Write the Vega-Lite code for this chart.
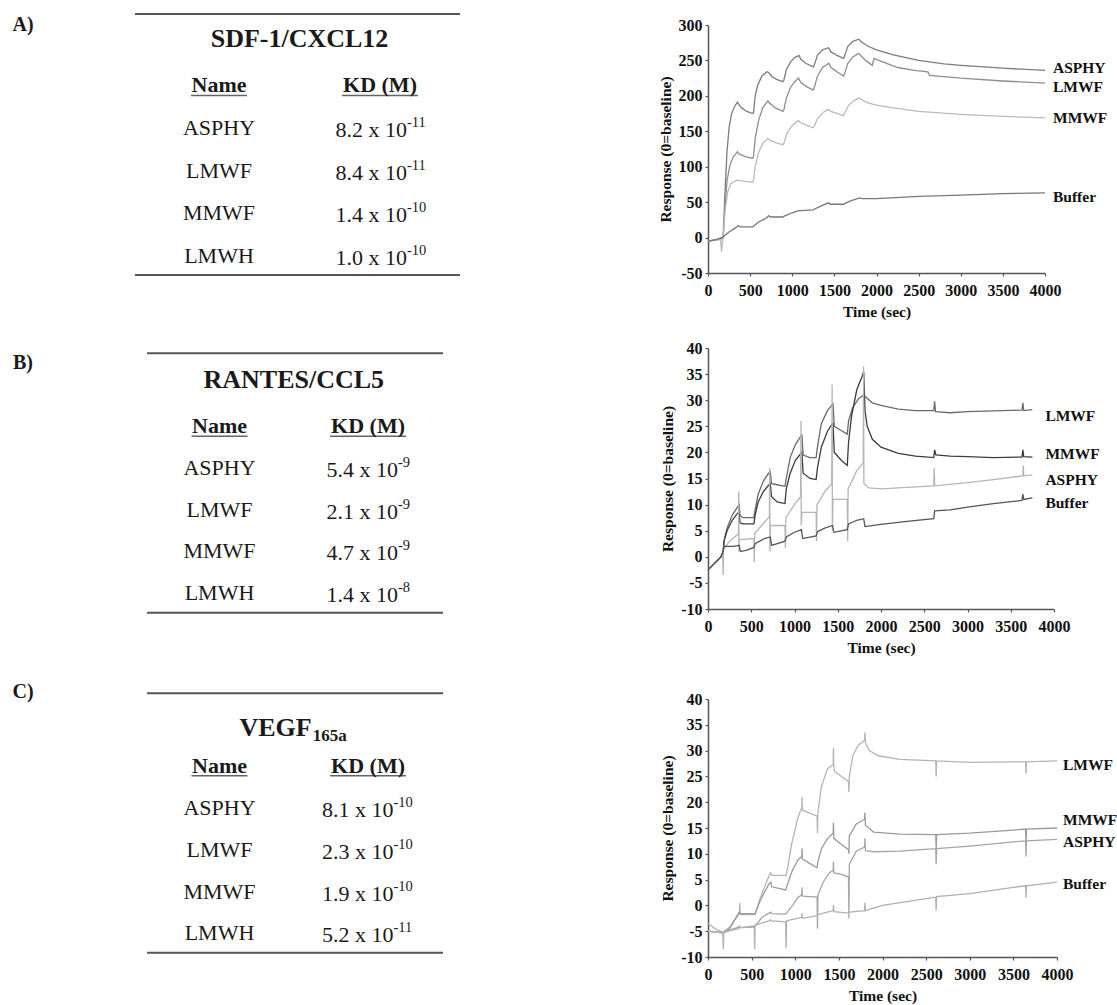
{
"$schema": "https://vega.github.io/schema/vega-lite/v6.json",
"background": "white",
"padding": {"left": 12, "top": 13, "right": 0, "bottom": 0},
"columns": 2,
"bounds": "flush",
"align": "each",
"spacing": {"row": 75, "column": 248},
"resolve": {"scale": {"x": "independent", "y": "independent", "color": "independent"}},
"config": {
  "font": "Liberation Serif",
  "view": {"stroke": null},
  "axis": {"labelFont": "Liberation Serif", "labelFontSize": 16, "labelFontWeight": "bold", "labelColor": "#111", "titleFont": "Liberation Serif", "titleFontSize": 15.5, "titleFontWeight": "bold", "titleColor": "#111", "domainColor": "#555", "domainWidth": 1.5, "tickColor": "#555", "tickWidth": 1.2, "tickSize": 3, "grid": false, "labelFlush": false, "labelOverlap": false},
  "axisX": {"labelPadding": 6, "titlePadding": 6},
  "axisY": {"labelPadding": 3, "titlePadding": 5},
  "text": {"color": "#1a1a1a"}
},
"datasets": {
  "tA": [{"r":1,"name":"ASPHY","base":"8.2 x 10","exp":"-11"},{"r":2,"name":"LMWF","base":"8.4 x 10","exp":"-11"},{"r":3,"name":"MMWF","base":"1.4 x 10","exp":"-10"},{"r":4,"name":"LMWH","base":"1.0 x 10","exp":"-10"}],
  "tB": [{"r":1,"name":"ASPHY","base":"5.4 x 10","exp":"-9"},{"r":2,"name":"LMWF","base":"2.1 x 10","exp":"-9"},{"r":3,"name":"MMWF","base":"4.7 x 10","exp":"-9"},{"r":4,"name":"LMWH","base":"1.4 x 10","exp":"-8"}],
  "tC": [{"r":1,"name":"ASPHY","base":"8.1 x 10","exp":"-10"},{"r":2,"name":"LMWF","base":"2.3 x 10","exp":"-10"},{"r":3,"name":"MMWF","base":"1.9 x 10","exp":"-10"},{"r":4,"name":"LMWH","base":"5.2 x 10","exp":"-11"}],
  "labA": [{"s":"ASPHY","t":4000,"v":239.4},{"s":"LMWF","t":4000,"v":212.6},{"s":"MMWF","t":4000,"v":168.8},{"s":"Buffer","t":4000,"v":57.4}],
  "labB": [{"s":"LMWF","t":3750,"v":27},{"s":"MMWF","t":3750,"v":19.6},{"s":"ASPHY","t":3750,"v":14.8},{"s":"Buffer","t":3750,"v":10.3}],
  "labC": [{"s":"LMWF","t":4000,"v":27.2},{"s":"MMWF","t":4000,"v":16.5},{"s":"ASPHY","t":4000,"v":12.3},{"s":"Buffer","t":4000,"v":4.2}],
  "A": [
{"s":"ASPHY","t":0,"v":-5},{"s":"ASPHY","t":100,"v":-3},{"s":"ASPHY","t":170,"v":-1},{"s":"ASPHY","t":180,"v":0},{"s":"ASPHY","t":200,"v":60},{"s":"ASPHY","t":225,"v":120},{"s":"ASPHY","t":250,"v":155},{"s":"ASPHY","t":280,"v":175},{"s":"ASPHY","t":320,"v":186},{"s":"ASPHY","t":350,"v":191},{"s":"ASPHY","t":365,"v":188},{"s":"ASPHY","t":400,"v":183},{"s":"ASPHY","t":460,"v":178},{"s":"ASPHY","t":530,"v":175},{"s":"ASPHY","t":540,"v":176},{"s":"ASPHY","t":560,"v":200},{"s":"ASPHY","t":590,"v":215},{"s":"ASPHY","t":640,"v":228},{"s":"ASPHY","t":700,"v":234},{"s":"ASPHY","t":720,"v":233},{"s":"ASPHY","t":760,"v":227},{"s":"ASPHY","t":820,"v":223},{"s":"ASPHY","t":890,"v":220},{"s":"ASPHY","t":900,"v":222},{"s":"ASPHY","t":930,"v":237},{"s":"ASPHY","t":980,"v":248},{"s":"ASPHY","t":1030,"v":254},{"s":"ASPHY","t":1080,"v":257},{"s":"ASPHY","t":1100,"v":252},{"s":"ASPHY","t":1160,"v":246},{"s":"ASPHY","t":1250,"v":241},{"s":"ASPHY","t":1260,"v":243},{"s":"ASPHY","t":1300,"v":258},{"s":"ASPHY","t":1360,"v":265},{"s":"ASPHY","t":1430,"v":268},{"s":"ASPHY","t":1460,"v":262},{"s":"ASPHY","t":1530,"v":257},{"s":"ASPHY","t":1610,"v":253},{"s":"ASPHY","t":1620,"v":256},{"s":"ASPHY","t":1660,"v":270},{"s":"ASPHY","t":1720,"v":277},{"s":"ASPHY","t":1790,"v":280},{"s":"ASPHY","t":1820,"v":276},{"s":"ASPHY","t":1900,"v":270},{"s":"ASPHY","t":2000,"v":265},{"s":"ASPHY","t":2200,"v":258},{"s":"ASPHY","t":2500,"v":250},{"s":"ASPHY","t":2800,"v":245},{"s":"ASPHY","t":3000,"v":243},{"s":"ASPHY","t":3500,"v":239},{"s":"ASPHY","t":4000,"v":236},
{"s":"LMWF","t":0,"v":-5},{"s":"LMWF","t":100,"v":-3},{"s":"LMWF","t":170,"v":-1},{"s":"LMWF","t":180,"v":0},{"s":"LMWF","t":200,"v":40},{"s":"LMWF","t":225,"v":80},{"s":"LMWF","t":260,"v":102},{"s":"LMWF","t":300,"v":114},{"s":"LMWF","t":350,"v":121},{"s":"LMWF","t":370,"v":118},{"s":"LMWF","t":450,"v":114},{"s":"LMWF","t":530,"v":112},{"s":"LMWF","t":540,"v":114},{"s":"LMWF","t":560,"v":140},{"s":"LMWF","t":600,"v":165},{"s":"LMWF","t":650,"v":183},{"s":"LMWF","t":710,"v":193},{"s":"LMWF","t":730,"v":190},{"s":"LMWF","t":800,"v":183},{"s":"LMWF","t":890,"v":178},{"s":"LMWF","t":900,"v":180},{"s":"LMWF","t":930,"v":197},{"s":"LMWF","t":980,"v":212},{"s":"LMWF","t":1030,"v":220},{"s":"LMWF","t":1075,"v":225},{"s":"LMWF","t":1100,"v":219},{"s":"LMWF","t":1170,"v":213},{"s":"LMWF","t":1250,"v":208},{"s":"LMWF","t":1260,"v":211},{"s":"LMWF","t":1300,"v":228},{"s":"LMWF","t":1360,"v":240},{"s":"LMWF","t":1435,"v":246},{"s":"LMWF","t":1460,"v":240},{"s":"LMWF","t":1530,"v":234},{"s":"LMWF","t":1610,"v":228},{"s":"LMWF","t":1620,"v":231},{"s":"LMWF","t":1660,"v":246},{"s":"LMWF","t":1720,"v":255},{"s":"LMWF","t":1790,"v":260},{"s":"LMWF","t":1820,"v":256},{"s":"LMWF","t":1880,"v":249},{"s":"LMWF","t":1950,"v":243},{"s":"LMWF","t":1970,"v":253},{"s":"LMWF","t":2050,"v":249},{"s":"LMWF","t":2250,"v":240},{"s":"LMWF","t":2450,"v":236},{"s":"LMWF","t":2610,"v":234},{"s":"LMWF","t":2630,"v":229},{"s":"LMWF","t":3000,"v":225},{"s":"LMWF","t":3500,"v":221},{"s":"LMWF","t":4000,"v":218},
{"s":"MMWF","t":0,"v":-5},{"s":"MMWF","t":150,"v":-3},{"s":"MMWF","t":160,"v":-20},{"s":"MMWF","t":170,"v":-8},{"s":"MMWF","t":185,"v":10},{"s":"MMWF","t":205,"v":40},{"s":"MMWF","t":235,"v":65},{"s":"MMWF","t":270,"v":76},{"s":"MMWF","t":340,"v":81},{"s":"MMWF","t":400,"v":80},{"s":"MMWF","t":530,"v":78},{"s":"MMWF","t":540,"v":80},{"s":"MMWF","t":560,"v":100},{"s":"MMWF","t":600,"v":120},{"s":"MMWF","t":650,"v":133},{"s":"MMWF","t":710,"v":140},{"s":"MMWF","t":730,"v":138},{"s":"MMWF","t":800,"v":134},{"s":"MMWF","t":890,"v":131},{"s":"MMWF","t":900,"v":133},{"s":"MMWF","t":940,"v":148},{"s":"MMWF","t":1000,"v":158},{"s":"MMWF","t":1070,"v":165},{"s":"MMWF","t":1100,"v":162},{"s":"MMWF","t":1180,"v":158},{"s":"MMWF","t":1250,"v":155},{"s":"MMWF","t":1260,"v":157},{"s":"MMWF","t":1300,"v":168},{"s":"MMWF","t":1370,"v":177},{"s":"MMWF","t":1430,"v":181},{"s":"MMWF","t":1460,"v":178},{"s":"MMWF","t":1540,"v":175},{"s":"MMWF","t":1610,"v":172},{"s":"MMWF","t":1620,"v":175},{"s":"MMWF","t":1670,"v":187},{"s":"MMWF","t":1730,"v":193},{"s":"MMWF","t":1790,"v":197},{"s":"MMWF","t":1830,"v":194},{"s":"MMWF","t":1900,"v":190},{"s":"MMWF","t":2000,"v":187},{"s":"MMWF","t":2200,"v":183},{"s":"MMWF","t":2500,"v":178},{"s":"MMWF","t":3000,"v":174},{"s":"MMWF","t":3500,"v":171},{"s":"MMWF","t":4000,"v":169},
{"s":"Buffer","t":0,"v":-5},{"s":"Buffer","t":100,"v":-3},{"s":"Buffer","t":180,"v":1},{"s":"Buffer","t":250,"v":8},{"s":"Buffer","t":330,"v":14},{"s":"Buffer","t":360,"v":17},{"s":"Buffer","t":380,"v":15},{"s":"Buffer","t":530,"v":15},{"s":"Buffer","t":540,"v":16},{"s":"Buffer","t":600,"v":22},{"s":"Buffer","t":700,"v":28},{"s":"Buffer","t":720,"v":31},{"s":"Buffer","t":740,"v":29},{"s":"Buffer","t":890,"v":29},{"s":"Buffer","t":900,"v":30},{"s":"Buffer","t":1000,"v":35},{"s":"Buffer","t":1075,"v":38},{"s":"Buffer","t":1100,"v":38},{"s":"Buffer","t":1250,"v":39},{"s":"Buffer","t":1260,"v":40},{"s":"Buffer","t":1350,"v":45},{"s":"Buffer","t":1430,"v":49},{"s":"Buffer","t":1450,"v":47},{"s":"Buffer","t":1610,"v":47},{"s":"Buffer","t":1620,"v":48},{"s":"Buffer","t":1700,"v":52},{"s":"Buffer","t":1800,"v":56},{"s":"Buffer","t":1830,"v":55},{"s":"Buffer","t":2000,"v":55},{"s":"Buffer","t":2500,"v":58},{"s":"Buffer","t":3000,"v":60},{"s":"Buffer","t":3500,"v":62},{"s":"Buffer","t":4000,"v":63}
  ],
  "B": [
{"s":"LMWF","t":0,"v":-2.5},{"s":"LMWF","t":60,"v":-1.5},{"s":"LMWF","t":150,"v":0},{"s":"LMWF","t":175,"v":1},{"s":"LMWF","t":185,"v":3},{"s":"LMWF","t":220,"v":5.5},{"s":"LMWF","t":280,"v":8},{"s":"LMWF","t":340,"v":9.5},{"s":"LMWF","t":360,"v":10},{"s":"LMWF","t":370,"v":8},{"s":"LMWF","t":400,"v":7.5},{"s":"LMWF","t":530,"v":7.5},{"s":"LMWF","t":545,"v":9},{"s":"LMWF","t":580,"v":12},{"s":"LMWF","t":640,"v":14.5},{"s":"LMWF","t":700,"v":16},{"s":"LMWF","t":720,"v":16.3},{"s":"LMWF","t":735,"v":14},{"s":"LMWF","t":800,"v":13.8},{"s":"LMWF","t":890,"v":13.5},{"s":"LMWF","t":905,"v":15},{"s":"LMWF","t":950,"v":19},{"s":"LMWF","t":1010,"v":21.5},{"s":"LMWF","t":1070,"v":23},{"s":"LMWF","t":1085,"v":23.3},{"s":"LMWF","t":1100,"v":19.5},{"s":"LMWF","t":1180,"v":19},{"s":"LMWF","t":1250,"v":19},{"s":"LMWF","t":1265,"v":21},{"s":"LMWF","t":1310,"v":25.5},{"s":"LMWF","t":1380,"v":28},{"s":"LMWF","t":1430,"v":29},{"s":"LMWF","t":1445,"v":29.3},{"s":"LMWF","t":1460,"v":25},{"s":"LMWF","t":1540,"v":24.2},{"s":"LMWF","t":1610,"v":23.5},{"s":"LMWF","t":1625,"v":26},{"s":"LMWF","t":1670,"v":28.5},{"s":"LMWF","t":1740,"v":30.3},{"s":"LMWF","t":1800,"v":31},{"s":"LMWF","t":1830,"v":30.5},{"s":"LMWF","t":1900,"v":29.5},{"s":"LMWF","t":2000,"v":29},{"s":"LMWF","t":2200,"v":28.3},{"s":"LMWF","t":2400,"v":28},{"s":"LMWF","t":2610,"v":28},{"s":"LMWF","t":2620,"v":29.8},{"s":"LMWF","t":2630,"v":27.8},{"s":"LMWF","t":2800,"v":27.6},{"s":"LMWF","t":3000,"v":27.8},{"s":"LMWF","t":3200,"v":27.9},{"s":"LMWF","t":3400,"v":28},{"s":"LMWF","t":3630,"v":28.1},{"s":"LMWF","t":3640,"v":29.5},{"s":"LMWF","t":3650,"v":28},{"s":"LMWF","t":3750,"v":28.2},
{"s":"MMWF","t":0,"v":-2.5},{"s":"MMWF","t":60,"v":-1.5},{"s":"MMWF","t":150,"v":0},{"s":"MMWF","t":175,"v":1},{"s":"MMWF","t":185,"v":3},{"s":"MMWF","t":220,"v":5},{"s":"MMWF","t":280,"v":7},{"s":"MMWF","t":340,"v":8.3},{"s":"MMWF","t":360,"v":8.5},{"s":"MMWF","t":370,"v":6.5},{"s":"MMWF","t":400,"v":6.3},{"s":"MMWF","t":530,"v":6.3},{"s":"MMWF","t":545,"v":8},{"s":"MMWF","t":580,"v":10.5},{"s":"MMWF","t":640,"v":12.5},{"s":"MMWF","t":700,"v":13.7},{"s":"MMWF","t":720,"v":14},{"s":"MMWF","t":735,"v":11.5},{"s":"MMWF","t":800,"v":10.5},{"s":"MMWF","t":890,"v":10.2},{"s":"MMWF","t":905,"v":13},{"s":"MMWF","t":950,"v":16},{"s":"MMWF","t":1010,"v":18.5},{"s":"MMWF","t":1070,"v":19.7},{"s":"MMWF","t":1085,"v":20},{"s":"MMWF","t":1100,"v":16},{"s":"MMWF","t":1180,"v":15},{"s":"MMWF","t":1250,"v":14.8},{"s":"MMWF","t":1265,"v":17},{"s":"MMWF","t":1310,"v":21},{"s":"MMWF","t":1380,"v":24},{"s":"MMWF","t":1430,"v":25.3},{"s":"MMWF","t":1445,"v":25.5},{"s":"MMWF","t":1460,"v":20},{"s":"MMWF","t":1540,"v":18.5},{"s":"MMWF","t":1610,"v":17.5},{"s":"MMWF","t":1625,"v":22},{"s":"MMWF","t":1660,"v":27},{"s":"MMWF","t":1720,"v":32},{"s":"MMWF","t":1780,"v":34.5},{"s":"MMWF","t":1800,"v":35.5},{"s":"MMWF","t":1815,"v":28},{"s":"MMWF","t":1840,"v":25},{"s":"MMWF","t":1900,"v":22.5},{"s":"MMWF","t":2000,"v":21},{"s":"MMWF","t":2200,"v":19.8},{"s":"MMWF","t":2400,"v":19.3},{"s":"MMWF","t":2610,"v":19},{"s":"MMWF","t":2620,"v":20.5},{"s":"MMWF","t":2635,"v":19.5},{"s":"MMWF","t":2800,"v":19.3},{"s":"MMWF","t":3000,"v":19.2},{"s":"MMWF","t":3300,"v":19},{"s":"MMWF","t":3630,"v":19.1},{"s":"MMWF","t":3640,"v":20.5},{"s":"MMWF","t":3650,"v":19.2},{"s":"MMWF","t":3750,"v":19.1},
{"s":"ASPHY","t":0,"v":-2.5},{"s":"ASPHY","t":60,"v":-1.5},{"s":"ASPHY","t":150,"v":0},{"s":"ASPHY","t":170,"v":0.5},{"s":"ASPHY","t":175,"v":-3.5},{"s":"ASPHY","t":180,"v":2},{"s":"ASPHY","t":185,"v":1.5},{"s":"ASPHY","t":250,"v":3},{"s":"ASPHY","t":340,"v":4.2},{"s":"ASPHY","t":352,"v":4.5},{"s":"ASPHY","t":355,"v":12.5},{"s":"ASPHY","t":358,"v":1},{"s":"ASPHY","t":362,"v":3.3},{"s":"ASPHY","t":450,"v":3.4},{"s":"ASPHY","t":530,"v":3.5},{"s":"ASPHY","t":535,"v":-1},{"s":"ASPHY","t":540,"v":4.5},{"s":"ASPHY","t":620,"v":6},{"s":"ASPHY","t":700,"v":7.5},{"s":"ASPHY","t":710,"v":7.8},{"s":"ASPHY","t":713,"v":17},{"s":"ASPHY","t":716,"v":1},{"s":"ASPHY","t":722,"v":6},{"s":"ASPHY","t":800,"v":6},{"s":"ASPHY","t":890,"v":6},{"s":"ASPHY","t":895,"v":1.7},{"s":"ASPHY","t":900,"v":7.5},{"s":"ASPHY","t":1000,"v":10},{"s":"ASPHY","t":1070,"v":11.5},{"s":"ASPHY","t":1075,"v":26},{"s":"ASPHY","t":1078,"v":6},{"s":"ASPHY","t":1085,"v":8.5},{"s":"ASPHY","t":1250,"v":8.5},{"s":"ASPHY","t":1255,"v":3},{"s":"ASPHY","t":1260,"v":10},{"s":"ASPHY","t":1350,"v":12.5},{"s":"ASPHY","t":1430,"v":14},{"s":"ASPHY","t":1435,"v":33},{"s":"ASPHY","t":1438,"v":5},{"s":"ASPHY","t":1445,"v":11},{"s":"ASPHY","t":1610,"v":11},{"s":"ASPHY","t":1615,"v":3},{"s":"ASPHY","t":1620,"v":13},{"s":"ASPHY","t":1720,"v":16.5},{"s":"ASPHY","t":1795,"v":18},{"s":"ASPHY","t":1798,"v":36.5},{"s":"ASPHY","t":1802,"v":14},{"s":"ASPHY","t":1860,"v":13.2},{"s":"ASPHY","t":2000,"v":13},{"s":"ASPHY","t":2300,"v":13.3},{"s":"ASPHY","t":2610,"v":13.6},{"s":"ASPHY","t":2615,"v":17},{"s":"ASPHY","t":2620,"v":13.6},{"s":"ASPHY","t":3000,"v":14.2},{"s":"ASPHY","t":3300,"v":14.8},{"s":"ASPHY","t":3640,"v":15.5},{"s":"ASPHY","t":3645,"v":17.5},{"s":"ASPHY","t":3650,"v":15.5},{"s":"ASPHY","t":3750,"v":15.7},
{"s":"Buffer","t":0,"v":-2.5},{"s":"Buffer","t":60,"v":-1.5},{"s":"Buffer","t":150,"v":0},{"s":"Buffer","t":175,"v":1},{"s":"Buffer","t":185,"v":2},{"s":"Buffer","t":300,"v":2},{"s":"Buffer","t":360,"v":2.2},{"s":"Buffer","t":375,"v":1},{"s":"Buffer","t":450,"v":1.3},{"s":"Buffer","t":530,"v":1.8},{"s":"Buffer","t":545,"v":2.5},{"s":"Buffer","t":650,"v":3.5},{"s":"Buffer","t":720,"v":3.8},{"s":"Buffer","t":735,"v":2.2},{"s":"Buffer","t":890,"v":3},{"s":"Buffer","t":905,"v":3.8},{"s":"Buffer","t":1000,"v":4.7},{"s":"Buffer","t":1080,"v":5.2},{"s":"Buffer","t":1095,"v":3.5},{"s":"Buffer","t":1250,"v":4},{"s":"Buffer","t":1265,"v":4.8},{"s":"Buffer","t":1350,"v":5.5},{"s":"Buffer","t":1440,"v":6},{"s":"Buffer","t":1455,"v":4.7},{"s":"Buffer","t":1610,"v":5.2},{"s":"Buffer","t":1625,"v":6.3},{"s":"Buffer","t":1720,"v":7},{"s":"Buffer","t":1800,"v":7.3},{"s":"Buffer","t":1815,"v":5.8},{"s":"Buffer","t":2000,"v":6.2},{"s":"Buffer","t":2300,"v":6.8},{"s":"Buffer","t":2610,"v":7.3},{"s":"Buffer","t":2620,"v":8.8},{"s":"Buffer","t":2800,"v":9},{"s":"Buffer","t":3000,"v":9.5},{"s":"Buffer","t":3300,"v":10.2},{"s":"Buffer","t":3630,"v":10.8},{"s":"Buffer","t":3640,"v":12},{"s":"Buffer","t":3650,"v":11},{"s":"Buffer","t":3750,"v":11.3}
  ],
  "C": [
{"s":"LMWF","t":0,"v":-3.5},{"s":"LMWF","t":80,"v":-4.5},{"s":"LMWF","t":170,"v":-5.2},{"s":"LMWF","t":250,"v":-4.2},{"s":"LMWF","t":350,"v":-1.8},{"s":"LMWF","t":360,"v":-1.5},{"s":"LMWF","t":365,"v":0.5},{"s":"LMWF","t":370,"v":-1.8},{"s":"LMWF","t":530,"v":-1.8},{"s":"LMWF","t":540,"v":-1.8},{"s":"LMWF","t":600,"v":1.5},{"s":"LMWF","t":700,"v":5.8},{"s":"LMWF","t":720,"v":6.3},{"s":"LMWF","t":730,"v":5.8},{"s":"LMWF","t":890,"v":5.8},{"s":"LMWF","t":900,"v":6},{"s":"LMWF","t":960,"v":12},{"s":"LMWF","t":1030,"v":17},{"s":"LMWF","t":1075,"v":19},{"s":"LMWF","t":1078,"v":21},{"s":"LMWF","t":1082,"v":18.5},{"s":"LMWF","t":1180,"v":17.8},{"s":"LMWF","t":1250,"v":17.3},{"s":"LMWF","t":1255,"v":14},{"s":"LMWF","t":1260,"v":18},{"s":"LMWF","t":1300,"v":23},{"s":"LMWF","t":1370,"v":26.5},{"s":"LMWF","t":1435,"v":27.3},{"s":"LMWF","t":1438,"v":30.5},{"s":"LMWF","t":1442,"v":27},{"s":"LMWF","t":1450,"v":26},{"s":"LMWF","t":1530,"v":25},{"s":"LMWF","t":1610,"v":24},{"s":"LMWF","t":1615,"v":22},{"s":"LMWF","t":1620,"v":25},{"s":"LMWF","t":1660,"v":29},{"s":"LMWF","t":1720,"v":31},{"s":"LMWF","t":1795,"v":32},{"s":"LMWF","t":1798,"v":33.5},{"s":"LMWF","t":1805,"v":31.5},{"s":"LMWF","t":1850,"v":30},{"s":"LMWF","t":1950,"v":29},{"s":"LMWF","t":2200,"v":28.3},{"s":"LMWF","t":2610,"v":28},{"s":"LMWF","t":2615,"v":25},{"s":"LMWF","t":2620,"v":28},{"s":"LMWF","t":3000,"v":27.7},{"s":"LMWF","t":3500,"v":27.8},{"s":"LMWF","t":3640,"v":27.8},{"s":"LMWF","t":3645,"v":25.5},{"s":"LMWF","t":3650,"v":27.8},{"s":"LMWF","t":4000,"v":28},
{"s":"MMWF","t":0,"v":-5},{"s":"MMWF","t":170,"v":-5.3},{"s":"MMWF","t":250,"v":-4.5},{"s":"MMWF","t":350,"v":-1.5},{"s":"MMWF","t":360,"v":-1.3},{"s":"MMWF","t":370,"v":-1.6},{"s":"MMWF","t":530,"v":-1.6},{"s":"MMWF","t":540,"v":-1.6},{"s":"MMWF","t":600,"v":1},{"s":"MMWF","t":700,"v":4.2},{"s":"MMWF","t":720,"v":4.5},{"s":"MMWF","t":730,"v":3.6},{"s":"MMWF","t":890,"v":3},{"s":"MMWF","t":900,"v":3.5},{"s":"MMWF","t":960,"v":6.5},{"s":"MMWF","t":1030,"v":8.8},{"s":"MMWF","t":1075,"v":9.5},{"s":"MMWF","t":1078,"v":11},{"s":"MMWF","t":1082,"v":9},{"s":"MMWF","t":1180,"v":8},{"s":"MMWF","t":1250,"v":7.3},{"s":"MMWF","t":1260,"v":8.5},{"s":"MMWF","t":1300,"v":11},{"s":"MMWF","t":1370,"v":13},{"s":"MMWF","t":1435,"v":14},{"s":"MMWF","t":1438,"v":16},{"s":"MMWF","t":1442,"v":13},{"s":"MMWF","t":1530,"v":11.8},{"s":"MMWF","t":1610,"v":10.8},{"s":"MMWF","t":1615,"v":10},{"s":"MMWF","t":1620,"v":13.5},{"s":"MMWF","t":1700,"v":15.8},{"s":"MMWF","t":1795,"v":16.7},{"s":"MMWF","t":1798,"v":18},{"s":"MMWF","t":1805,"v":15.5},{"s":"MMWF","t":1900,"v":14.2},{"s":"MMWF","t":2200,"v":13.8},{"s":"MMWF","t":2610,"v":13.7},{"s":"MMWF","t":2615,"v":11},{"s":"MMWF","t":2620,"v":13.7},{"s":"MMWF","t":3000,"v":14},{"s":"MMWF","t":3500,"v":14.6},{"s":"MMWF","t":3640,"v":14.8},{"s":"MMWF","t":3645,"v":12},{"s":"MMWF","t":3650,"v":14.8},{"s":"MMWF","t":4000,"v":15},
{"s":"ASPHY","t":0,"v":-5},{"s":"ASPHY","t":170,"v":-5.3},{"s":"ASPHY","t":250,"v":-4.8},{"s":"ASPHY","t":350,"v":-4.2},{"s":"ASPHY","t":360,"v":-4},{"s":"ASPHY","t":370,"v":-4.3},{"s":"ASPHY","t":530,"v":-4.2},{"s":"ASPHY","t":540,"v":-4},{"s":"ASPHY","t":620,"v":-2.3},{"s":"ASPHY","t":700,"v":-1.5},{"s":"ASPHY","t":720,"v":-1.3},{"s":"ASPHY","t":730,"v":-1.6},{"s":"ASPHY","t":890,"v":-1.7},{"s":"ASPHY","t":900,"v":-1.5},{"s":"ASPHY","t":970,"v":0},{"s":"ASPHY","t":1030,"v":1.5},{"s":"ASPHY","t":1075,"v":2.1},{"s":"ASPHY","t":1078,"v":3.5},{"s":"ASPHY","t":1082,"v":1.8},{"s":"ASPHY","t":1250,"v":1.6},{"s":"ASPHY","t":1255,"v":-4.5},{"s":"ASPHY","t":1260,"v":2},{"s":"ASPHY","t":1320,"v":4.5},{"s":"ASPHY","t":1390,"v":6.3},{"s":"ASPHY","t":1435,"v":6.8},{"s":"ASPHY","t":1438,"v":8.5},{"s":"ASPHY","t":1442,"v":6.3},{"s":"ASPHY","t":1530,"v":6},{"s":"ASPHY","t":1610,"v":5.5},{"s":"ASPHY","t":1615,"v":-2.5},{"s":"ASPHY","t":1620,"v":8},{"s":"ASPHY","t":1700,"v":10.5},{"s":"ASPHY","t":1795,"v":11.3},{"s":"ASPHY","t":1798,"v":13},{"s":"ASPHY","t":1805,"v":10.6},{"s":"ASPHY","t":1900,"v":10.4},{"s":"ASPHY","t":2200,"v":10.5},{"s":"ASPHY","t":2610,"v":11},{"s":"ASPHY","t":2615,"v":8},{"s":"ASPHY","t":2620,"v":11},{"s":"ASPHY","t":3000,"v":11.5},{"s":"ASPHY","t":3500,"v":12.3},{"s":"ASPHY","t":3640,"v":12.5},{"s":"ASPHY","t":3645,"v":9.5},{"s":"ASPHY","t":3650,"v":12.5},{"s":"ASPHY","t":4000,"v":12.8},
{"s":"Buffer","t":0,"v":-5},{"s":"Buffer","t":170,"v":-5.3},{"s":"Buffer","t":175,"v":-8.5},{"s":"Buffer","t":180,"v":-5.2},{"s":"Buffer","t":350,"v":-4.5},{"s":"Buffer","t":360,"v":-4.2},{"s":"Buffer","t":370,"v":-4.3},{"s":"Buffer","t":530,"v":-4},{"s":"Buffer","t":535,"v":-8.5},{"s":"Buffer","t":540,"v":-3.8},{"s":"Buffer","t":700,"v":-3},{"s":"Buffer","t":720,"v":-2.8},{"s":"Buffer","t":730,"v":-3},{"s":"Buffer","t":890,"v":-3.2},{"s":"Buffer","t":895,"v":-8.3},{"s":"Buffer","t":900,"v":-3},{"s":"Buffer","t":1075,"v":-2.3},{"s":"Buffer","t":1078,"v":-1.5},{"s":"Buffer","t":1082,"v":-2.5},{"s":"Buffer","t":1250,"v":-2},{"s":"Buffer","t":1260,"v":-1.8},{"s":"Buffer","t":1435,"v":-1},{"s":"Buffer","t":1438,"v":0},{"s":"Buffer","t":1442,"v":-1.2},{"s":"Buffer","t":1610,"v":-1.5},{"s":"Buffer","t":1620,"v":-1.3},{"s":"Buffer","t":1795,"v":-1},{"s":"Buffer","t":1798,"v":0.5},{"s":"Buffer","t":1805,"v":-1},{"s":"Buffer","t":2000,"v":0},{"s":"Buffer","t":2500,"v":1.3},{"s":"Buffer","t":2610,"v":1.6},{"s":"Buffer","t":2615,"v":-1},{"s":"Buffer","t":2620,"v":1.7},{"s":"Buffer","t":3000,"v":2.3},{"s":"Buffer","t":3500,"v":3.5},{"s":"Buffer","t":3640,"v":3.8},{"s":"Buffer","t":3645,"v":1.5},{"s":"Buffer","t":3650,"v":3.8},{"s":"Buffer","t":4000,"v":4.5}
  ]
},
"concat": [
{
  "width": 325, "height": 248,
  "data": {"values": [{}]},
  "layer": [
    {"mark": {"type": "rule", "color": "#555", "strokeWidth": 2}, "encoding": {"x": {"datum": -0.5217, "type": "quantitative", "scale": {"domain": [-0.5217, 1.4969], "nice": false, "zero": false}, "axis": null}, "x2": {"datum": 1.4969}, "y": {"datum": -1.678, "type": "quantitative", "scale": {"domain": [-1.42, 4.401], "reverse": true, "nice": false, "zero": false}, "axis": null}}},
    {"mark": {"type": "rule", "color": "#555", "strokeWidth": 2}, "encoding": {"x": {"datum": -0.5217, "type": "quantitative", "scale": {"domain": [-0.5217, 1.4969], "nice": false, "zero": false}, "axis": null}, "x2": {"datum": 1.4969}, "y": {"datum": 4.448, "type": "quantitative", "scale": {"domain": [-1.42, 4.401], "reverse": true, "nice": false, "zero": false}, "axis": null}}},
    {"mark": {"type": "text", "fontSize": 20, "fontWeight": "bold"}, "encoding": {"x": {"datum": -1.217, "type": "quantitative", "scale": {"domain": [-0.5217, 1.4969], "nice": false, "zero": false}, "axis": null}, "y": {"datum": -1.42, "type": "quantitative", "scale": {"domain": [-1.42, 4.401], "reverse": true, "nice": false, "zero": false}, "axis": null}, "text": {"value": "A)"}}},
    {"mark": {"type": "text", "fontSize": 26, "fontWeight": "bold", "dy": -3.6}, "encoding": {"x": {"datum": 0.5, "type": "quantitative", "scale": {"domain": [-0.5217, 1.4969], "nice": false, "zero": false}, "axis": null}, "y": {"datum": -1, "type": "quantitative", "scale": {"domain": [-1.42, 4.401], "reverse": true, "nice": false, "zero": false}, "axis": null}, "text": {"value": "SDF-1/CXCL12"}}},
    {"mark": {"type": "text", "fontSize": 22, "fontWeight": "bold"}, "encoding": {"x": {"datum": 0, "type": "quantitative", "scale": {"domain": [-0.5217, 1.4969], "nice": false, "zero": false}, "axis": null}, "y": {"datum": 0, "type": "quantitative", "scale": {"domain": [-1.42, 4.401], "reverse": true, "nice": false, "zero": false}, "axis": null}, "text": {"value": "Name"}}},
    {"mark": {"type": "text", "fontSize": 22, "fontWeight": "bold"}, "encoding": {"x": {"datum": 1, "type": "quantitative", "scale": {"domain": [-0.5217, 1.4969], "nice": false, "zero": false}, "axis": null}, "y": {"datum": 0, "type": "quantitative", "scale": {"domain": [-1.42, 4.401], "reverse": true, "nice": false, "zero": false}, "axis": null}, "text": {"value": "KD (M)"}}},
    {"mark": {"type": "tick", "orient": "horizontal", "size": 56, "thickness": 1.5, "color": "#222", "yOffset": 10}, "encoding": {"x": {"datum": 0, "type": "quantitative", "scale": {"domain": [-0.5217, 1.4969], "nice": false, "zero": false}, "axis": null}, "y": {"datum": 0, "type": "quantitative", "scale": {"domain": [-1.42, 4.401], "reverse": true, "nice": false, "zero": false}, "axis": null}}},
    {"mark": {"type": "tick", "orient": "horizontal", "size": 76, "thickness": 1.5, "color": "#222", "yOffset": 10}, "encoding": {"x": {"datum": 1, "type": "quantitative", "scale": {"domain": [-0.5217, 1.4969], "nice": false, "zero": false}, "axis": null}, "y": {"datum": 0, "type": "quantitative", "scale": {"domain": [-1.42, 4.401], "reverse": true, "nice": false, "zero": false}, "axis": null}}},
    {"data": {"name": "tA"}, "mark": {"type": "text", "fontSize": 22}, "encoding": {"x": {"datum": 0, "type": "quantitative", "scale": {"domain": [-0.5217, 1.4969], "nice": false, "zero": false}, "axis": null}, "y": {"field": "r", "type": "quantitative", "scale": {"domain": [-1.42, 4.401], "reverse": true, "nice": false, "zero": false}, "axis": null}, "text": {"field": "name"}}},
    {"data": {"name": "tA"}, "mark": {"type": "text", "fontSize": 22, "align": "right", "dx": 27, "dy": 2}, "encoding": {"x": {"datum": 1, "type": "quantitative", "scale": {"domain": [-0.5217, 1.4969], "nice": false, "zero": false}, "axis": null}, "y": {"field": "r", "type": "quantitative", "scale": {"domain": [-1.42, 4.401], "reverse": true, "nice": false, "zero": false}, "axis": null}, "text": {"field": "base"}}},
    {"data": {"name": "tA"}, "mark": {"type": "text", "fontSize": 14.5, "align": "left", "dx": 27, "dy": -5}, "encoding": {"x": {"datum": 1, "type": "quantitative", "scale": {"domain": [-0.5217, 1.4969], "nice": false, "zero": false}, "axis": null}, "y": {"field": "r", "type": "quantitative", "scale": {"domain": [-1.42, 4.401], "reverse": true, "nice": false, "zero": false}, "axis": null}, "text": {"field": "exp"}}}
  ]
},
{
  "width": 337, "height": 248,
  "layer": [
    {"data": {"name": "A"}, "mark": {"type": "line", "strokeWidth": 1.3}, "encoding": {
      "x": {"field": "t", "type": "quantitative", "scale": {"domain": [0, 4000], "nice": false, "zero": false}, "axis": {"title": "Time (sec)", "values": [0,500,1000,1500,2000,2500,3000,3500,4000], "tickCount": 20, "labelOverlap": false, "labelExpr": "'' + datum.value"}},
      "y": {"field": "v", "type": "quantitative", "scale": {"domain": [-50, 300], "nice": false, "zero": false}, "axis": {"title": "Response (0=baseline)", "values": [-50,0,50,100,150,200,250,300], "tickCount": 20, "labelOverlap": false, "labelExpr": "'' + datum.value"}},
      "color": {"field": "s", "type": "nominal", "scale": {"domain": ["ASPHY","LMWF","MMWF","Buffer"], "range": ["#7c7c7c","#8e8e8e","#bababa","#777777"]}, "legend": null}}},
    {"data": {"name": "labA"}, "mark": {"type": "text", "align": "left", "dx": 8, "fontSize": 15.5, "fontWeight": "bold", "color": "#111"}, "encoding": {
      "x": {"field": "t", "type": "quantitative", "scale": {"domain": [0, 4000], "nice": false, "zero": false}},
      "y": {"field": "v", "type": "quantitative", "scale": {"domain": [-50, 300], "nice": false, "zero": false}},
      "text": {"field": "s"}}}
  ]
},
{
  "width": 308, "height": 276,
  "data": {"values": [{}]},
  "layer": [
    {"mark": {"type": "rule", "color": "#555", "strokeWidth": 2}, "encoding": {"x": {"datum": -0.488, "type": "quantitative", "scale": {"domain": [-0.569, 1.505], "nice": false, "zero": false}, "axis": null}, "x2": {"datum": 1.505}, "y": {"datum": -1.752, "type": "quantitative", "scale": {"domain": [-1.88, 4.746], "reverse": true, "nice": false, "zero": false}, "axis": null}}},
    {"mark": {"type": "rule", "color": "#555", "strokeWidth": 2}, "encoding": {"x": {"datum": -0.488, "type": "quantitative", "scale": {"domain": [-0.569, 1.505], "nice": false, "zero": false}, "axis": null}, "x2": {"datum": 1.505}, "y": {"datum": 4.474, "type": "quantitative", "scale": {"domain": [-1.88, 4.746], "reverse": true, "nice": false, "zero": false}, "axis": null}}},
    {"mark": {"type": "text", "fontSize": 20, "fontWeight": "bold"}, "encoding": {"x": {"datum": -1.323, "type": "quantitative", "scale": {"domain": [-0.569, 1.505], "nice": false, "zero": false}, "axis": null}, "y": {"datum": -1.519, "type": "quantitative", "scale": {"domain": [-1.88, 4.746], "reverse": true, "nice": false, "zero": false}, "axis": null}, "text": {"value": "B)"}}},
    {"mark": {"type": "text", "fontSize": 26, "fontWeight": "bold", "dy": -4.6}, "encoding": {"x": {"datum": 0.5, "type": "quantitative", "scale": {"domain": [-0.569, 1.505], "nice": false, "zero": false}, "axis": null}, "y": {"datum": -1, "type": "quantitative", "scale": {"domain": [-1.88, 4.746], "reverse": true, "nice": false, "zero": false}, "axis": null}, "text": {"value": "RANTES/CCL5"}}},
    {"mark": {"type": "text", "fontSize": 22, "fontWeight": "bold"}, "encoding": {"x": {"datum": 0, "type": "quantitative", "scale": {"domain": [-0.569, 1.505], "nice": false, "zero": false}, "axis": null}, "y": {"datum": 0, "type": "quantitative", "scale": {"domain": [-1.88, 4.746], "reverse": true, "nice": false, "zero": false}, "axis": null}, "text": {"value": "Name"}}},
    {"mark": {"type": "text", "fontSize": 22, "fontWeight": "bold"}, "encoding": {"x": {"datum": 1, "type": "quantitative", "scale": {"domain": [-0.569, 1.505], "nice": false, "zero": false}, "axis": null}, "y": {"datum": 0, "type": "quantitative", "scale": {"domain": [-1.88, 4.746], "reverse": true, "nice": false, "zero": false}, "axis": null}, "text": {"value": "KD (M)"}}},
    {"mark": {"type": "tick", "orient": "horizontal", "size": 56, "thickness": 1.5, "color": "#222", "yOffset": 10}, "encoding": {"x": {"datum": 0, "type": "quantitative", "scale": {"domain": [-0.569, 1.505], "nice": false, "zero": false}, "axis": null}, "y": {"datum": 0, "type": "quantitative", "scale": {"domain": [-1.88, 4.746], "reverse": true, "nice": false, "zero": false}, "axis": null}}},
    {"mark": {"type": "tick", "orient": "horizontal", "size": 76, "thickness": 1.5, "color": "#222", "yOffset": 10}, "encoding": {"x": {"datum": 1, "type": "quantitative", "scale": {"domain": [-0.569, 1.505], "nice": false, "zero": false}, "axis": null}, "y": {"datum": 0, "type": "quantitative", "scale": {"domain": [-1.88, 4.746], "reverse": true, "nice": false, "zero": false}, "axis": null}}},
    {"data": {"name": "tB"}, "mark": {"type": "text", "fontSize": 22}, "encoding": {"x": {"datum": 0, "type": "quantitative", "scale": {"domain": [-0.569, 1.505], "nice": false, "zero": false}, "axis": null}, "y": {"field": "r", "type": "quantitative", "scale": {"domain": [-1.88, 4.746], "reverse": true, "nice": false, "zero": false}, "axis": null}, "text": {"field": "name"}}},
    {"data": {"name": "tB"}, "mark": {"type": "text", "fontSize": 22, "align": "right", "dx": 30, "dy": 2}, "encoding": {"x": {"datum": 1, "type": "quantitative", "scale": {"domain": [-0.569, 1.505], "nice": false, "zero": false}, "axis": null}, "y": {"field": "r", "type": "quantitative", "scale": {"domain": [-1.88, 4.746], "reverse": true, "nice": false, "zero": false}, "axis": null}, "text": {"field": "base"}}},
    {"data": {"name": "tB"}, "mark": {"type": "text", "fontSize": 14.5, "align": "left", "dx": 30, "dy": -5}, "encoding": {"x": {"datum": 1, "type": "quantitative", "scale": {"domain": [-0.569, 1.505], "nice": false, "zero": false}, "axis": null}, "y": {"field": "r", "type": "quantitative", "scale": {"domain": [-1.88, 4.746], "reverse": true, "nice": false, "zero": false}, "axis": null}, "text": {"field": "exp"}}}
  ]
},
{
  "width": 346, "height": 261,
  "layer": [
    {"data": {"name": "B"}, "mark": {"type": "line", "strokeWidth": 1.3}, "encoding": {
      "x": {"field": "t", "type": "quantitative", "scale": {"domain": [0, 4000], "nice": false, "zero": false}, "axis": {"title": "Time (sec)", "values": [0,500,1000,1500,2000,2500,3000,3500,4000], "tickCount": 20, "labelOverlap": false, "labelExpr": "'' + datum.value"}},
      "y": {"field": "v", "type": "quantitative", "scale": {"domain": [-10, 40], "nice": false, "zero": false}, "axis": {"title": "Response (0=baseline)", "values": [-10,-5,0,5,10,15,20,25,30,35,40], "tickCount": 20, "labelOverlap": false, "labelExpr": "'' + datum.value"}},
      "color": {"field": "s", "type": "nominal", "scale": {"domain": ["LMWF","MMWF","ASPHY","Buffer"], "range": ["#6a6a6a","#3c3c3c","#b5b5b5","#555555"]}, "legend": null}}},
    {"data": {"name": "labB"}, "mark": {"type": "text", "align": "left", "dx": 13, "fontSize": 15.5, "fontWeight": "bold", "color": "#111"}, "encoding": {
      "x": {"field": "t", "type": "quantitative", "scale": {"domain": [0, 4000], "nice": false, "zero": false}},
      "y": {"field": "v", "type": "quantitative", "scale": {"domain": [-10, 40], "nice": false, "zero": false}},
      "text": {"field": "s"}}}
  ]
},
{
  "width": 308, "height": 258,
  "data": {"values": [{}]},
  "layer": [
    {"mark": {"type": "rule", "color": "#555", "strokeWidth": 2}, "encoding": {"x": {"datum": -0.488, "type": "quantitative", "scale": {"domain": [-0.569, 1.505], "nice": false, "zero": false}, "axis": null}, "x2": {"datum": 1.505}, "y": {"datum": -1.732, "type": "quantitative", "scale": {"domain": [-1.596, 4.562], "reverse": true, "nice": false, "zero": false}, "axis": null}}},
    {"mark": {"type": "rule", "color": "#555", "strokeWidth": 2}, "encoding": {"x": {"datum": -0.488, "type": "quantitative", "scale": {"domain": [-0.569, 1.505], "nice": false, "zero": false}, "axis": null}, "x2": {"datum": 1.505}, "y": {"datum": 4.459, "type": "quantitative", "scale": {"domain": [-1.596, 4.562], "reverse": true, "nice": false, "zero": false}, "axis": null}}},
    {"mark": {"type": "text", "fontSize": 20, "fontWeight": "bold"}, "encoding": {"x": {"datum": -1.323, "type": "quantitative", "scale": {"domain": [-0.569, 1.505], "nice": false, "zero": false}, "axis": null}, "y": {"datum": -1.763, "type": "quantitative", "scale": {"domain": [-1.596, 4.562], "reverse": true, "nice": false, "zero": false}, "axis": null}, "text": {"value": "C)"}}},
    {"mark": {"type": "text", "fontSize": 26, "fontWeight": "bold", "align": "right", "dy": 4}, "encoding": {"x": {"datum": 0.621, "type": "quantitative", "scale": {"domain": [-0.569, 1.505], "nice": false, "zero": false}, "axis": null}, "y": {"datum": -1, "type": "quantitative", "scale": {"domain": [-1.596, 4.562], "reverse": true, "nice": false, "zero": false}, "axis": null}, "text": {"value": "VEGF"}}},
    {"mark": {"type": "text", "fontSize": 17, "fontWeight": "bold", "align": "left", "dx": 1, "dy": 11.7}, "encoding": {"x": {"datum": 0.621, "type": "quantitative", "scale": {"domain": [-0.569, 1.505], "nice": false, "zero": false}, "axis": null}, "y": {"datum": -1, "type": "quantitative", "scale": {"domain": [-1.596, 4.562], "reverse": true, "nice": false, "zero": false}, "axis": null}, "text": {"value": "165a"}}},
    {"mark": {"type": "text", "fontSize": 22, "fontWeight": "bold"}, "encoding": {"x": {"datum": 0, "type": "quantitative", "scale": {"domain": [-0.569, 1.505], "nice": false, "zero": false}, "axis": null}, "y": {"datum": 0, "type": "quantitative", "scale": {"domain": [-1.596, 4.562], "reverse": true, "nice": false, "zero": false}, "axis": null}, "text": {"value": "Name"}}},
    {"mark": {"type": "text", "fontSize": 22, "fontWeight": "bold"}, "encoding": {"x": {"datum": 1, "type": "quantitative", "scale": {"domain": [-0.569, 1.505], "nice": false, "zero": false}, "axis": null}, "y": {"datum": 0, "type": "quantitative", "scale": {"domain": [-1.596, 4.562], "reverse": true, "nice": false, "zero": false}, "axis": null}, "text": {"value": "KD (M)"}}},
    {"mark": {"type": "tick", "orient": "horizontal", "size": 56, "thickness": 1.5, "color": "#222", "yOffset": 10}, "encoding": {"x": {"datum": 0, "type": "quantitative", "scale": {"domain": [-0.569, 1.505], "nice": false, "zero": false}, "axis": null}, "y": {"datum": 0, "type": "quantitative", "scale": {"domain": [-1.596, 4.562], "reverse": true, "nice": false, "zero": false}, "axis": null}}},
    {"mark": {"type": "tick", "orient": "horizontal", "size": 76, "thickness": 1.5, "color": "#222", "yOffset": 10}, "encoding": {"x": {"datum": 1, "type": "quantitative", "scale": {"domain": [-0.569, 1.505], "nice": false, "zero": false}, "axis": null}, "y": {"datum": 0, "type": "quantitative", "scale": {"domain": [-1.596, 4.562], "reverse": true, "nice": false, "zero": false}, "axis": null}}},
    {"data": {"name": "tC"}, "mark": {"type": "text", "fontSize": 22}, "encoding": {"x": {"datum": 0, "type": "quantitative", "scale": {"domain": [-0.569, 1.505], "nice": false, "zero": false}, "axis": null}, "y": {"field": "r", "type": "quantitative", "scale": {"domain": [-1.596, 4.562], "reverse": true, "nice": false, "zero": false}, "axis": null}, "text": {"field": "name"}}},
    {"data": {"name": "tC"}, "mark": {"type": "text", "fontSize": 22, "align": "right", "dx": 25.5, "dy": 2}, "encoding": {"x": {"datum": 1, "type": "quantitative", "scale": {"domain": [-0.569, 1.505], "nice": false, "zero": false}, "axis": null}, "y": {"field": "r", "type": "quantitative", "scale": {"domain": [-1.596, 4.562], "reverse": true, "nice": false, "zero": false}, "axis": null}, "text": {"field": "base"}}},
    {"data": {"name": "tC"}, "mark": {"type": "text", "fontSize": 14.5, "align": "left", "dx": 25.5, "dy": -5}, "encoding": {"x": {"datum": 1, "type": "quantitative", "scale": {"domain": [-0.569, 1.505], "nice": false, "zero": false}, "axis": null}, "y": {"field": "r", "type": "quantitative", "scale": {"domain": [-1.596, 4.562], "reverse": true, "nice": false, "zero": false}, "axis": null}, "text": {"field": "exp"}}}
  ]
},
{
  "width": 349, "height": 258,
  "layer": [
    {"data": {"name": "C"}, "mark": {"type": "line", "strokeWidth": 1.3}, "encoding": {
      "x": {"field": "t", "type": "quantitative", "scale": {"domain": [0, 4000], "nice": false, "zero": false}, "axis": {"title": "Time (sec)", "values": [0,500,1000,1500,2000,2500,3000,3500,4000], "tickCount": 20, "labelOverlap": false, "labelExpr": "'' + datum.value"}},
      "y": {"field": "v", "type": "quantitative", "scale": {"domain": [-10, 40], "nice": false, "zero": false}, "axis": {"title": "Response (0=baseline)", "values": [-10,-5,0,5,10,15,20,25,30,35,40], "tickCount": 20, "labelOverlap": false, "labelExpr": "'' + datum.value"}},
      "color": {"field": "s", "type": "nominal", "scale": {"domain": ["LMWF","MMWF","ASPHY","Buffer"], "range": ["#b5b5b5","#9a9a9a","#a5a5a5","#b0b0b0"]}, "legend": null}}},
    {"data": {"name": "labC"}, "mark": {"type": "text", "align": "left", "dx": 6, "fontSize": 15.5, "fontWeight": "bold", "color": "#111"}, "encoding": {
      "x": {"field": "t", "type": "quantitative", "scale": {"domain": [0, 4000], "nice": false, "zero": false}},
      "y": {"field": "v", "type": "quantitative", "scale": {"domain": [-10, 40], "nice": false, "zero": false}},
      "text": {"field": "s"}}}
  ]
}
]
}
